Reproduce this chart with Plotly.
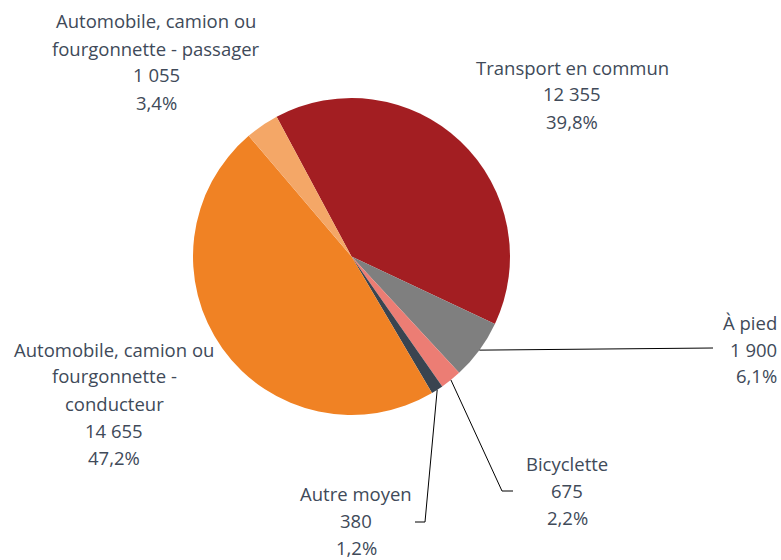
import math

import plotly.graph_objects as go

# données
categories = [
    "Transport en commun",
    "À pied",
    "Bicyclette",
    "Autre moyen",
    "Automobile, camion ou fourgonnette - conducteur",
    "Automobile, camion ou fourgonnette - passager",
]
label_lines = [
    ["Transport en commun"],
    ["À pied"],
    ["Bicyclette"],
    ["Autre moyen"],
    ["Automobile, camion ou", "fourgonnette -", "conducteur"],
    ["Automobile, camion ou", "fourgonnette - passager"],
]
values = [12355, 1900, 675, 380, 14655, 1055]
colors = ["#A31E22", "#7F7F7F", "#EC7D74", "#3A4450", "#F08224", "#F4A767"]

W, H = 781, 560
CX, CY, R = 351.5, 256.5, 158.5
START_ANGLE = -28.2
TEXT_COLOR = "#404A59"
FONT = dict(family="Open Sans", size=18.5, color=TEXT_COLOR)
LINE_STEP = 27

# position du texte (centre x, y de la première ligne, alignement) et ligne de rappel
label_layout = [
    dict(x=572, y=67, align="center", leader=None),
    dict(x=779, y=322, align="right", leader=[(713, 348)]),
    dict(x=567, y=463, align="center", leader=[(502, 491), (513, 491)]),
    dict(x=356, y=493, align="center", leader=[(425, 522), (415, 522)]),
    dict(x=114, y=349, align="center", leader=None),
    dict(x=156, y=21, align="center", leader=None),
]


def px_to_paper(x, y):
    return x / W, 1 - y / H


def fmt_int(v):
    return f"{v:,}".replace(",", " ")


total = sum(values)

fig = go.Figure(
    go.Pie(
        labels=categories,
        values=values,
        sort=False,
        direction="clockwise",
        rotation=START_ANGLE,
        marker=dict(colors=colors, line=dict(width=0)),
        textinfo="none",
        hoverinfo="label+value+percent",
        domain=dict(x=[(CX - R) / W, (CX + R) / W], y=[1 - (CY + R) / H, 1 - (CY - R) / H]),
    )
)

annotations = []
shapes = []
cum = 0
for name_lines, v, lay in zip(label_lines, values, label_layout):
    mid = START_ANGLE + (cum + v / 2) / total * 360
    cum += v
    lines = name_lines + [fmt_int(v), f"{v / total * 100:.1f}%".replace(".", ",")]
    xanchor = "right" if lay["align"] == "right" else "center"
    for i, line in enumerate(lines):
        px_, py_ = px_to_paper(lay["x"], lay["y"] + i * LINE_STEP)
        annotations.append(dict(
            x=px_, y=py_, xref="paper", yref="paper", text=line, showarrow=False,
            xanchor=xanchor, yanchor="middle", font=FONT,
        ))
    if lay["leader"]:
        a = math.radians(mid)
        pts = [(CX + R * math.sin(a), CY - R * math.cos(a))] + lay["leader"]
        for (x0, y0), (x1, y1) in zip(pts[:-1], pts[1:]):
            p0, p1 = px_to_paper(x0, y0), px_to_paper(x1, y1)
            shapes.append(dict(
                type="line", xref="paper", yref="paper",
                x0=p0[0], y0=p0[1], x1=p1[0], y1=p1[1],
                line=dict(color="black", width=1),
            ))

fig.update_layout(
    width=W,
    height=H,
    margin=dict(l=0, r=0, t=0, b=0),
    paper_bgcolor="white",
    plot_bgcolor="white",
    showlegend=False,
    annotations=annotations,
    shapes=shapes,
)

# pas de marge autour du graphique dans la page
fig.write_html(
    "out.html",
    config={"displayModeBar": False},
    post_script="document.body.style.margin = '0';",
)
